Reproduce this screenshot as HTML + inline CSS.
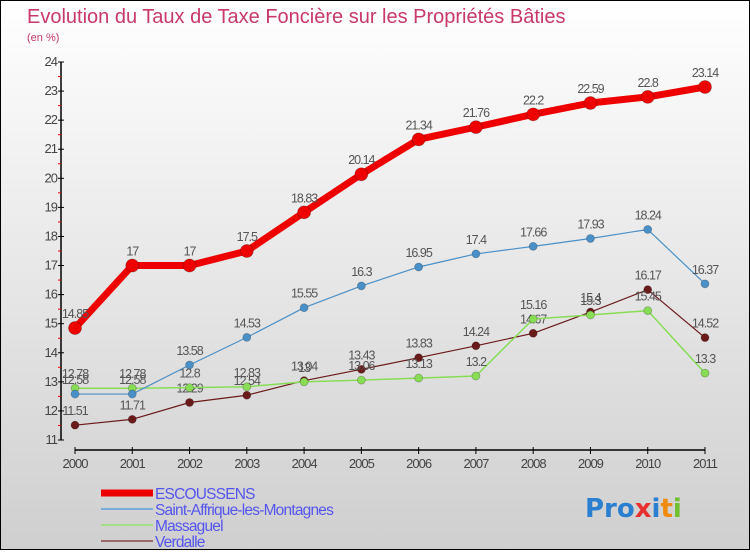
<!DOCTYPE html>
<html><head><meta charset="utf-8">
<style>
html,body{margin:0;padding:0}
body{width:750px;height:550px;overflow:hidden;font-family:"Liberation Sans","DejaVu Sans",sans-serif}
#wrap{position:relative;width:748px;height:548px;border:1px solid #000;background:linear-gradient(#ffffff,#cfcfcf)}
</style></head>
<body>
<div id="wrap">
<svg id="chart" width="748" height="548" xmlns="http://www.w3.org/2000/svg">
<text x="26" y="22" font-size="20" fill="#c8386a">Evolution du Taux de Taxe Foncière sur les Propriétés Bâties</text>
<text x="26" y="40" font-size="11" fill="#c8386a">(en %)</text>
<g id="axes"></g>
<g id="series"></g>
<g id="legend"></g>
<g font-size="26" font-weight="bold" font-family="'DejaVu Sans',sans-serif">
<text x="584" y="516"><tspan fill="#2a7fd0">Pro</tspan><tspan fill="#e83030">x</tspan><tspan fill="#2a7fd0">i</tspan><tspan fill="#f08a10">t</tspan><tspan fill="#70c030">i</tspan></text>
</g>
</svg>
</div>
<script>
const years=["2000","2001","2002","2003","2004","2005","2006","2007","2008","2009","2010","2011"];
const escoussens=[14.85,17,17,17.5,18.83,20.14,21.34,21.76,22.2,22.59,22.8,23.14];
const saintAffrique=[12.58,12.58,13.58,14.53,15.55,16.3,16.95,17.4,17.66,17.93,18.24,16.37];
const massaguel=[12.78,12.78,12.8,12.83,13.0,13.06,13.13,13.2,15.16,15.3,15.45,13.3];
const verdalle=[11.51,11.71,12.29,12.54,13.04,13.43,13.83,14.24,14.67,15.4,16.17,14.52];
const yTicks=[11,12,13,14,15,16,17,18,19,20,21,22,23,24];
const seriesNames=["ESCOUSSENS","Saint-Affrique-les-Montagnes","Massaguel","Verdalle"];

const NS="http://www.w3.org/2000/svg";
const X0=74,X1=704,Ymin=11,Ymax=24,Ypx0=439,Ypx1=61;
function xs(i){return X0+(X1-X0)*i/(years.length-1);}
function ys(v){return Ypx0-(v-Ymin)*(Ypx0-Ypx1)/(Ymax-Ymin);}
function mk(tag,attrs,parent){const e=document.createElementNS(NS,tag);for(const k in attrs)e.setAttribute(k,attrs[k]);parent.appendChild(e);return e;}

const axes=document.getElementById('axes');
const ya=mk('line',{x1:60,y1:ys(24),x2:60,y2:ys(11),stroke:'#000','stroke-width':1.5},axes);


yTicks.forEach((t,i)=>{
  mk('line',{x1:57,x2:63,y1:ys(t),y2:ys(t),stroke:'#000'},axes);
  if(i<yTicks.length-1) mk('line',{x1:57,x2:60,y1:ys(t+0.5),y2:ys(t+0.5),stroke:'#e00'},axes);
  const tx=mk('text',{x:56,y:ys(t)+4,'font-size':13,fill:'#444','text-anchor':'end','letter-spacing':'-1'},axes);
  tx.textContent=t;
  
  
});
const xa=mk('line',{x1:X0,y1:449,x2:X1,y2:449,stroke:'#000','stroke-width':1.5},axes);


years.forEach((y,i)=>{
  mk('line',{x1:xs(i),x2:xs(i),y1:446,y2:453,stroke:'#000'},axes);
  const tx=mk('text',{x:xs(i),y:467,'font-size':13,fill:'#444','text-anchor':'middle','letter-spacing':'-1'},axes);
  tx.textContent=y;
  
  
});

const series=document.getElementById('series');
const defs=[
 {data:verdalle,color:'#6b1a1a',w:1.2,r:4,name:'verdalle'},
 {data:massaguel,color:'#88dd55',w:1.5,r:4,name:'massaguel'},
 {data:saintAffrique,color:'#4a90c8',w:1.2,r:4,name:'saint-affrique'},
 {data:escoussens,color:'#ee0000',w:7,r:6.5,name:'escoussens'}
];
defs.forEach(s=>{
  const g=mk('g',{},series);
  
  
  const p=mk('polyline',{points:s.data.map((v,i)=>xs(i)+','+ys(v)).join(' '),fill:'none',stroke:s.color,'stroke-width':s.w,'stroke-linejoin':'round'},g);
  
  
  s.data.forEach((v,i)=>{
    const c=mk('circle',{cx:xs(i),cy:ys(v),r:s.r,fill:s.color,stroke:'rgba(0,0,0,0.25)','stroke-width':0.8},g);
    
    
    const t=mk('text',{x:xs(i),y:ys(v)-10,'font-size':12.5,fill:'#555','text-anchor':'middle','letter-spacing':'-1'},g);
    t.textContent=v;
    
    
  });
});

const legend=document.getElementById('legend');
const lc=['#ee0000','#7aaed8','#a6de88','#9a6a6a'];
const lw=[7,2,2,2];
seriesNames.forEach((n,i)=>{
  const y=492+i*16;
  const l=mk('line',{x1:100,x2:152,y1:y,y2:y,stroke:lc[i],'stroke-width':lw[i]},legend);
  
  
  const t=mk('text',{x:154,y:y+6,'font-size':15.5,fill:'#5555ee','letter-spacing':'-0.8'},legend);
  t.textContent=n;
  
  
});
</script>
</body></html>
